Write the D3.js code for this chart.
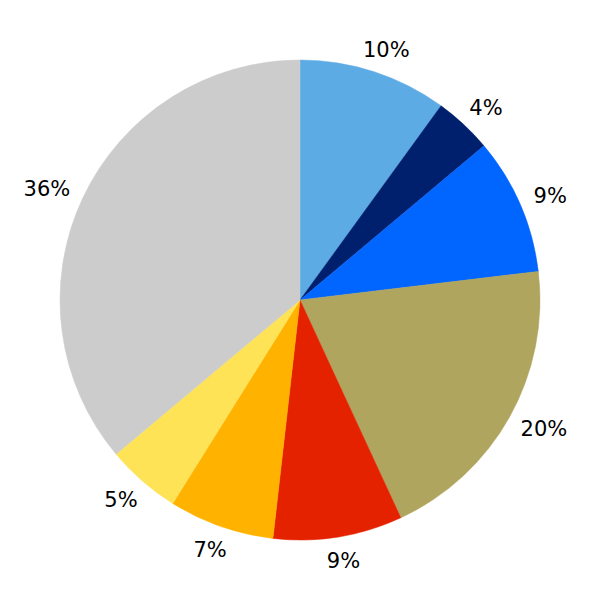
<!DOCTYPE html>
<html>
<head>
<meta charset="utf-8">
<script src="https://cdn.jsdelivr.net/npm/d3@7"></script>
<style>
  html, body { margin: 0; padding: 0; background: #fff; }
  svg { display: block; }
</style>
</head>
<body>
<svg id="chart" width="600" height="600"></svg>
<script>
const categories = ["A", "B", "C", "D", "E", "F", "G", "H"];
const values = [10.0, 3.9, 9.2, 20.0, 8.7, 7.1, 5.0, 36.1];
const colors = ["#5DABE4", "#00206E", "#0066FF", "#B0A55F", "#E52200", "#FFB300", "#FFE357", "#CCCCCC"];

const W = 600, H = 600, cx = 300, cy = 300, R = 240;
const svg = d3.select("#chart");
const g = svg.append("g").attr("transform", `translate(${cx},${cy})`);

const total = d3.sum(values);
const data = categories.map((c, i) => ({ cat: c, value: values[i], color: colors[i] }));

const pie = d3.pie().value(d => d.value).sort(null);
const arc = d3.arc().innerRadius(0).outerRadius(R);
const arcs = pie(data);

g.selectAll("path.slice")
  .data(arcs)
  .join("path")
  .attr("class", "slice")
  .attr("d", arc)
  .attr("fill", d => d.data.color)
  .attr("stroke", d => d.data.color)
  .attr("stroke-width", 0.5);

const fmt = v => Math.round(v / total * 100) + "%";
const labelR = R * 1.1;
const fontSize = 21;

g.selectAll("text.lbl")
  .data(arcs)
  .join("text")
  .attr("class", "lbl")
  .attr("font-family", "DejaVu Sans, sans-serif")
  .attr("font-size", fontSize)
  .attr("fill", "#000")
  .attr("text-anchor", "middle")
  .text(d => fmt(d.data.value))
  .each(function(d) {
    const a = (d.startAngle + d.endAngle) / 2;
    const w = this.getComputedTextLength();
    const s = Math.sin(a), c = Math.cos(a);
    const x = s * labelR + s * (w / 2 - 8);
    const y = -c * labelR + 0.729 * fontSize / 2;
    d3.select(this).attr("x", x).attr("y", y);
  });
</script>
</body>
</html>
